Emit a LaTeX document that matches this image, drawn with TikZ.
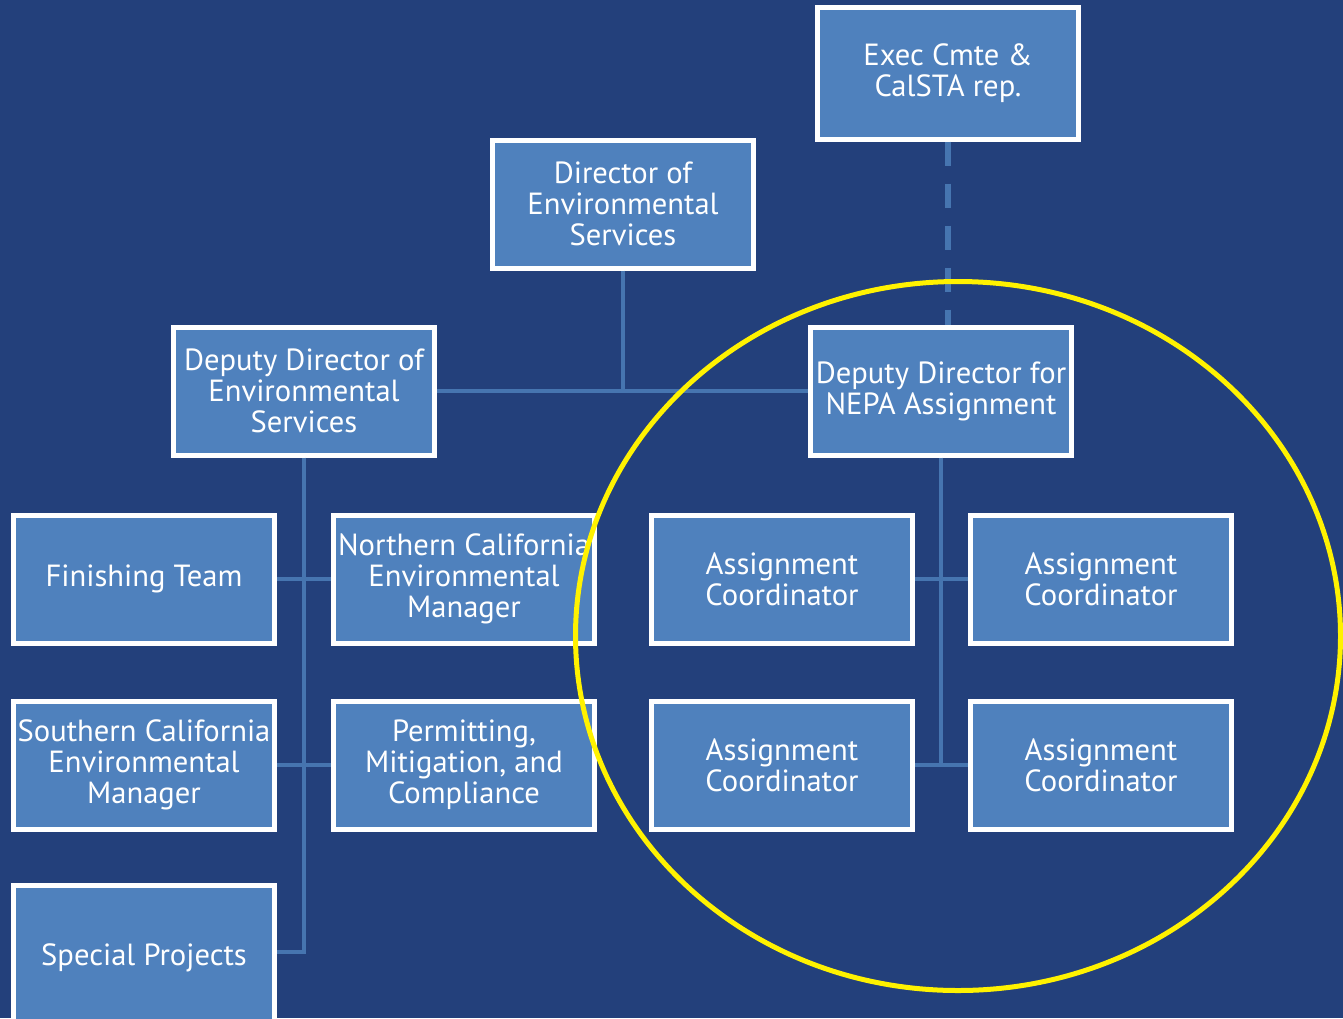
\documentclass[tikz,border=0pt]{standalone}
\usepackage{fontspec}
\setmainfont{PT Sans}
\usetikzlibrary{positioning}
\definecolor{bgblue}{HTML}{23407B}
\definecolor{boxblue}{HTML}{4F81BD}
\definecolor{lineblue}{HTML}{4675B0}

\begin{document}
\begin{tikzpicture}[x=0.5pt,y=-0.5pt,
  unit/.style={draw=white, line width=2.5pt, fill=boxblue, text=white, minimum width=130.5pt, minimum height=64pt, inner sep=0pt, align=center, font=\fontsize{15.3}{15.5}\selectfont},
  link/.style={lineblue, line width=2.2pt},
  dotlink/.style={lineblue, line width=3pt, dash pattern=on 12pt off 9pt}]
\clip (0,0) rectangle (1343,1018);
\fill[bgblue] (0,0) rectangle (1343,1018);

% top of the chart
\node[unit, minimum height=66pt] (exec) at (948,73) {Exec Cmte \&\\CalSTA rep.};
\node[unit] (dir) at (623,204) {Director of\\Environmental\\Services};
\node[unit] (depenv) at (304,391) {Deputy Director of\\Environmental\\Services};
\node[unit] (depnepa) at (941,391) {Deputy Director for\\NEPA Assignment};

% left branch
\node[unit] (finish) at (144,579) {Finishing Team};
\node[unit] (north) at (464,579) {Northern California\\Environmental\\Manager};
\node[unit] (south) at (144,765) {Southern California\\Environmental\\Manager};
\node[unit] (permit) at (464,765) {Permitting,\\Mitigation, and\\Compliance};
\node[unit, minimum height=76pt] (special) at (144,961) {\raisebox{6.5pt}{Special Projects}};

% right branch
\node[unit] (coordA) at (782,579) {Assignment\\Coordinator};
\node[unit] (coordB) at (1101,579) {Assignment\\Coordinator};
\node[unit] (coordC) at (782,765) {Assignment\\Coordinator};
\node[unit] (coordD) at (1101,765) {Assignment\\Coordinator};

% connectors
\draw[link] (dir.south) -- (dir.south |- depenv.east);
\draw[link] (depenv.east) -- (depnepa.west);
\draw[dotlink] (exec.south) -- (exec.south |- depnepa.north);
\draw[link] (depenv.south) |- (special.east |- 0,952);
\draw[link] (finish.east) -- (north.west);
\draw[link] (south.east) -- (permit.west);
\draw[link] (depnepa.south) -- (depnepa.south |- coordC.east);
\draw[link] (coordA.east) -- (coordB.west);
\draw[link] (coordC.east) -- (coordD.west);

% highlight
\draw[yellow, line width=2.5pt] (958,636) ellipse[x radius=191.25pt, y radius=177.25pt];
\end{tikzpicture}
\end{document}
